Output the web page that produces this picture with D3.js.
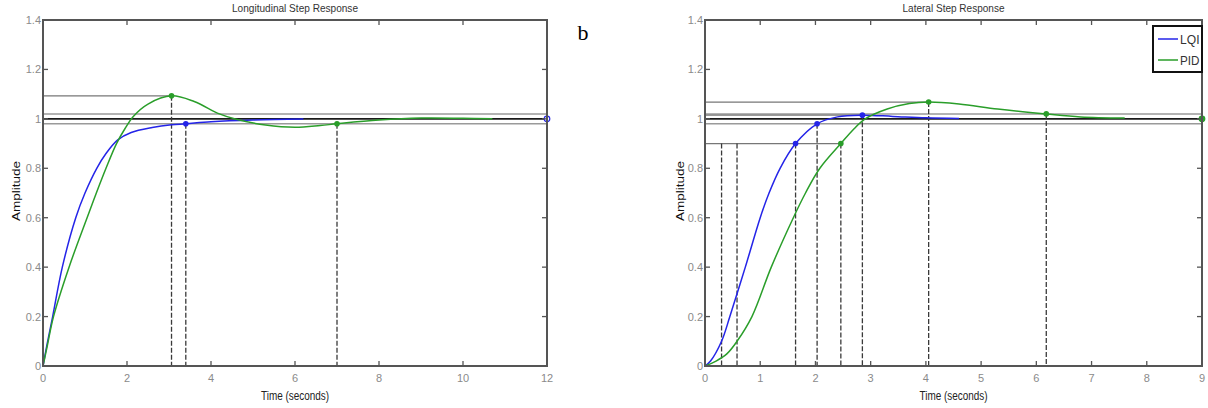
<!DOCTYPE html>
<html><head><meta charset="utf-8">
<script src="https://cdn.jsdelivr.net/npm/d3@7"></script>
<style>
body{margin:0;background:#fff;}
svg{display:block;}
</style></head>
<body><svg id="c" width="1208" height="408" font-family="Liberation Sans Narrow, Liberation Sans, Arial, sans-serif"></svg>
<script>
// ---------- data ----------
const yTicks = [0, 0.2, 0.4, 0.6, 0.8, 1, 1.2, 1.4];
const lonXTicks = [0, 2, 4, 6, 8, 10, 12];
const latXTicks = [0, 1, 2, 3, 4, 5, 6, 7, 8, 9];

// Longitudinal step response
const lonLqiT = [0, 0.1, 0.23, 0.46, 0.78, 1.0, 1.28, 1.5, 1.78, 2.1, 2.6, 3.06, 3.4, 4.0, 5.0, 6.2];
const lonLqiY = [0, 0.09, 0.2, 0.4, 0.6, 0.7, 0.8, 0.86, 0.915, 0.945, 0.965, 0.976, 0.98, 0.988, 0.995, 0.999];
const lonPidT = [0, 0.1, 0.25, 0.62, 1.05, 1.27, 1.5, 1.75, 1.95, 2.15, 2.5, 3.06, 3.6, 4.2, 4.6, 5.3, 6.0, 6.6, 7.0, 8.0, 9.0, 10.0, 10.7];
const lonPidY = [0, 0.08, 0.2, 0.4, 0.6, 0.7, 0.8, 0.9, 0.96, 1.01, 1.06, 1.093, 1.07, 1.02, 0.998, 0.975, 0.966, 0.973, 0.98, 0.995, 1.003, 1.002, 1.0];

// Lateral step response
const latLqiT = [0, 0.1, 0.3, 0.45, 0.73, 1.0, 1.16, 1.36, 1.64, 2.03, 2.4, 2.85, 3.4, 4.0, 4.6];
const latLqiY = [0, 0.02, 0.1, 0.2, 0.4, 0.6, 0.7, 0.8, 0.9, 0.98, 1.008, 1.015, 1.01, 1.004, 1.001];
const latPidT = [0, 0.2, 0.4, 0.58, 0.85, 1.2, 1.6, 1.82, 2.08, 2.46, 2.7, 2.9, 3.3, 3.7, 4.05, 4.6, 5.3, 6.18, 6.8, 7.6];
const latPidY = [0, 0.02, 0.05, 0.1, 0.2, 0.4, 0.6, 0.7, 0.8, 0.9, 0.96, 1.0, 1.04, 1.062, 1.068, 1.06, 1.04, 1.02, 1.008, 1.003];

// characteristic points: [time, amplitude, series]
const lonPeaks = [[3.06, 1.093, "PID"]];
const lonSettle = [[3.4, 0.98, "LQI"], [7.0, 0.98, "PID"]];
const lonFinal = [[12, 1.0, "LQI"]];
const latRise = [[1.64, 0.9, "LQI"], [2.46, 0.9, "PID"]];
const latRiseStart = [0.30, 0.58];
const latPeaks = [[2.85, 1.015, "LQI"], [4.05, 1.068, "PID"]];
const latSettle = [[2.03, 0.98, "LQI"], [6.18, 1.02, "PID"]];
const latFinal = [[9, 1.0, "PID"]];

const seriesNames = ["LQI", "PID"];
const seriesColors = {LQI: "#2424e8", PID: "#2a9e2a"};

// ---------- drawing ----------
const svg = d3.select("#c");

function panel(o) {
  const x = d3.scaleLinear().domain(o.xDomain).range([o.x0, o.x1]);
  const y = d3.scaleLinear().domain([0, 1.4]).range([366, 20]);
  const g = svg.append("g");
  const xmax = o.xDomain[1];

  [0.98, 1.02].forEach(v => {
    g.append("line").attr("x1", x(0)).attr("x2", x(xmax)).attr("y1", y(v)).attr("y2", y(v))
      .attr("stroke", "#9a9a9a").attr("stroke-width", 1.5);
  });
  g.append("line").attr("x1", x(0)).attr("x2", x(xmax)).attr("y1", y(1)).attr("y2", y(1))
    .attr("stroke", "#1a1a1a").attr("stroke-width", 1.6);

  o.hLines.forEach(p => {
    g.append("line").attr("x1", x(0)).attr("x2", x(p[0])).attr("y1", y(p[1])).attr("y2", y(p[1]))
      .attr("stroke", "#777").attr("stroke-width", 1.3);
  });
  o.vLines.forEach(p => {
    g.append("line").attr("x1", x(p[0])).attr("x2", x(p[0])).attr("y1", y(p[1])).attr("y2", y(0))
      .attr("stroke", "#3a3a3a").attr("stroke-width", 1.3).attr("stroke-dasharray", "5,2");
  });

  const line = d3.line().x(d => x(d[0])).y(d => y(d[1])).curve(d3.curveCatmullRom.alpha(0.5));
  o.series.forEach(s => {
    const pts = s.t.map((t, i) => [t, s.y[i]]);
    g.append("path").datum(pts).attr("d", line).attr("fill", "none")
      .attr("stroke", seriesColors[s.name]).attr("stroke-width", 1.5);
  });

  o.markers.forEach(p => {
    g.append("circle").attr("cx", x(p[0])).attr("cy", y(p[1])).attr("r", 2.8)
      .attr("fill", seriesColors[p[2]]);
  });
  o.openMarkers.forEach(p => {
    g.append("circle").attr("cx", x(p[0])).attr("cy", y(p[1])).attr("r", 2.8)
      .attr("fill", p[3] ? seriesColors[p[2]] : "#fff").attr("stroke", seriesColors[p[2]]).attr("stroke-width", 1.2);
  });

  g.append("rect").attr("x", o.x0).attr("y", 20).attr("width", o.x1 - o.x0).attr("height", 346)
    .attr("fill", "none").attr("stroke", "#555").attr("stroke-width", 2);

  const tk = 5;
  o.xTicks.forEach(t => {
    if (t === o.xDomain[0] || t === xmax) return;
    g.append("line").attr("x1", x(t)).attr("x2", x(t)).attr("y1", 366).attr("y2", 366 - tk).attr("stroke", "#555").attr("stroke-width", 1.3);
    g.append("line").attr("x1", x(t)).attr("x2", x(t)).attr("y1", 20).attr("y2", 20 + tk).attr("stroke", "#555").attr("stroke-width", 1.3);
  });
  yTicks.forEach(v => {
    if (v === 0 || v === 1.4) return;
    g.append("line").attr("x1", o.x0).attr("x2", o.x0 + tk).attr("y1", y(v)).attr("y2", y(v)).attr("stroke", "#555").attr("stroke-width", 1.3);
    g.append("line").attr("x1", o.x1).attr("x2", o.x1 - tk).attr("y1", y(v)).attr("y2", y(v)).attr("stroke", "#555").attr("stroke-width", 1.3);
  });

  const fmt = d3.format("~g");
  o.xTicks.forEach(t => {
    g.append("text").attr("x", x(t)).attr("y", 382).attr("text-anchor", "middle")
      .attr("font-size", 11).attr("fill", "#8a8a8a").text(fmt(t));
  });
  yTicks.forEach(v => {
    g.append("text").attr("x", o.x0 - 2).attr("y", y(v) + 4).attr("text-anchor", "end")
      .attr("font-size", 11).attr("fill", "#8a8a8a").text(fmt(v));
  });

  const cx = (o.x0 + o.x1) / 2;
  g.append("text").attr("x", cx).attr("y", 12).attr("text-anchor", "middle")
    .attr("font-size", 11.5).attr("fill", "#333")
    .attr("textLength", o.titleLen).attr("lengthAdjust", "spacingAndGlyphs").text(o.title);
  g.append("text").attr("x", cx).attr("y", 400).attr("text-anchor", "middle")
    .attr("font-size", 12).attr("fill", "#222")
    .attr("textLength", 68).attr("lengthAdjust", "spacingAndGlyphs").text("Time (seconds)");
  g.append("text").attr("transform", `translate(${o.ylabX},191) rotate(-90)`).attr("text-anchor", "middle")
    .attr("font-size", 10).attr("fill", "#111").attr("font-family", "Liberation Sans, Arial, sans-serif")
    .attr("textLength", 60).attr("lengthAdjust", "spacingAndGlyphs").text("Amplitude");
  return {x, y};
}

panel({
  title: "Longitudinal Step Response", titleLen: 126,
  xDomain: [0, 12], x0: 43, x1: 547, xTicks: lonXTicks, ylabX: 20,
  series: [{name: "LQI", t: lonLqiT, y: lonLqiY}, {name: "PID", t: lonPidT, y: lonPidY}],
  hLines: lonPeaks,
  vLines: [...lonPeaks, ...lonSettle],
  markers: [...lonPeaks, ...lonSettle],
  openMarkers: lonFinal.map(p => [p[0], p[1], p[2], false])
});

panel({
  title: "Lateral Step Response", titleLen: 102,
  xDomain: [0, 9], x0: 705, x1: 1202, xTicks: latXTicks, ylabX: 684,
  series: [{name: "LQI", t: latLqiT, y: latLqiY}, {name: "PID", t: latPidT, y: latPidY}],
  hLines: [...latPeaks, [latRise[1][0], 0.9]],
  vLines: [...latRise, ...latPeaks, ...latSettle, ...latRiseStart.map(t => [t, 0.9])],
  markers: [...latRise, ...latPeaks, ...latSettle],
  openMarkers: latFinal.map(p => [p[0], p[1], p[2], true])
});

// legend
const lg = svg.append("g");
lg.append("rect").attr("x", 1153).attr("y", 26).attr("width", 49).attr("height", 46)
  .attr("fill", "#fff").attr("stroke", "#111").attr("stroke-width", 2);
seriesNames.forEach((n, i) => {
  const yy = 39 + i * 21;
  lg.append("line").attr("x1", 1158).attr("x2", 1178).attr("y1", yy).attr("y2", yy)
    .attr("stroke", seriesColors[n]).attr("stroke-width", 1.5);
  lg.append("text").attr("x", 1180).attr("y", yy + 5).attr("font-size", 12.5).attr("fill", "#333")
    .attr("textLength", n.length * 6.5).attr("lengthAdjust", "spacingAndGlyphs").text(n);
});

// panel label
svg.append("text").attr("x", 583).attr("y", 40).attr("text-anchor", "middle")
  .attr("font-family", "Liberation Serif, Times New Roman, serif").attr("font-size", 22).attr("fill", "#000").text("b");
</script></body></html>
